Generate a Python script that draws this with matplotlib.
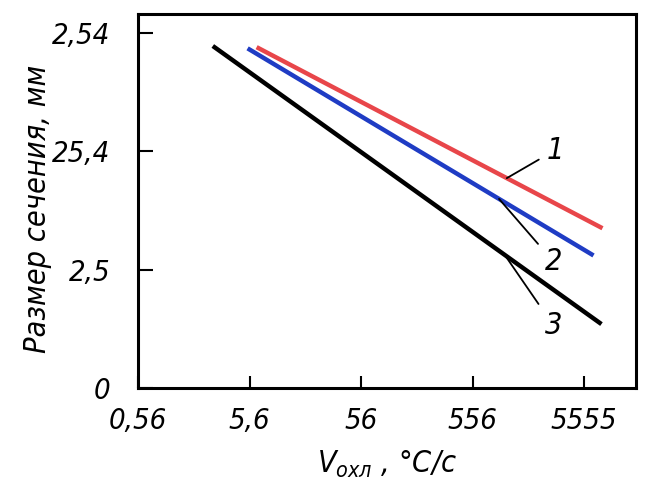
import numpy as np
import matplotlib
matplotlib.use("Agg")
import matplotlib.pyplot as plt

# Data
x_ticks = [0.56, 5.6, 56, 556, 5555]
x_tick_labels = ["0,56", "5,6", "56", "556", "5555"]
y_ticks = [0, 1, 2, 3]
y_tick_labels = ["0", "2,5", "25,4", "2,54"]

line1_x = [6.47, 8110]
line1_y = [2.88, 1.35]
line2_x = [5.37, 6740]
line2_y = [2.87, 1.12]
line3_x = [2.62, 7940]
line3_y = [2.89, 0.54]

plt.rcParams['font.family'] = ['DejaVu Sans']
plt.rcParams['font.stretch'] = 'condensed'

fig = plt.figure(figsize=(6.5, 5.01), dpi=100)
ax = fig.add_axes([0.2123, 0.2255, 0.9785 - 0.2123, 0.972 - 0.2255])

ax.plot(line1_x, line1_y, color='#e8464a', lw=3.2, solid_capstyle='butt')
ax.plot(line2_x, line2_y, color='#1f3cc4', lw=3.2, solid_capstyle='butt')
ax.plot(line3_x, line3_y, color='#000000', lw=3.2, solid_capstyle='butt')

ax.set_xscale('log')
ax.set_xlim(0.56, 16200)
ax.set_ylim(0, 3.16)
ax.set_xticks(x_ticks)
ax.set_xticklabels(x_tick_labels)
ax.xaxis.set_minor_locator(matplotlib.ticker.NullLocator())
ax.set_yticks(y_ticks)
ax.set_yticklabels(y_tick_labels)

for s in ax.spines.values():
    s.set_linewidth(2.2)
ax.tick_params(axis='x', direction='in', length=9, width=1.5, pad=14,
               labelsize=21)
ax.tick_params(axis='y', direction='in', length=11, width=1.5, pad=20,
               labelsize=21)
for lab in ax.get_xticklabels() + ax.get_yticklabels():
    lab.set_style('italic')

ax.set_ylabel('Размер сечения, мм', fontsize=22, style='italic')
ax.yaxis.set_label_coords(-0.172, 0.48)
ax.set_xlabel(r'$V_{\mathit{охл}}$ , °C/c', fontsize=22, style='italic', labelpad=10)

def on_line(xs, ys, xq):
    return np.interp(np.log10(xq), np.log10(xs), ys)

def label(txt, xs, ys, xq, xt, yt):
    ax.annotate(txt, xy=(xq, on_line(xs, ys, xq)), xytext=(xt, yt),
                textcoords='data', fontsize=22, style='italic',
                ha='left', va='center',
                arrowprops=dict(arrowstyle='-', lw=1.3, color='black',
                                shrinkA=4, shrinkB=0))

label('1', line1_x, line1_y, 1127, 2550, 2.01)
label('2', line2_x, line2_y, 960, 2450, 1.07)
label('3', line3_x, line3_y, 1080, 2450, 0.53)

fig.savefig('out.png', dpi=100)
